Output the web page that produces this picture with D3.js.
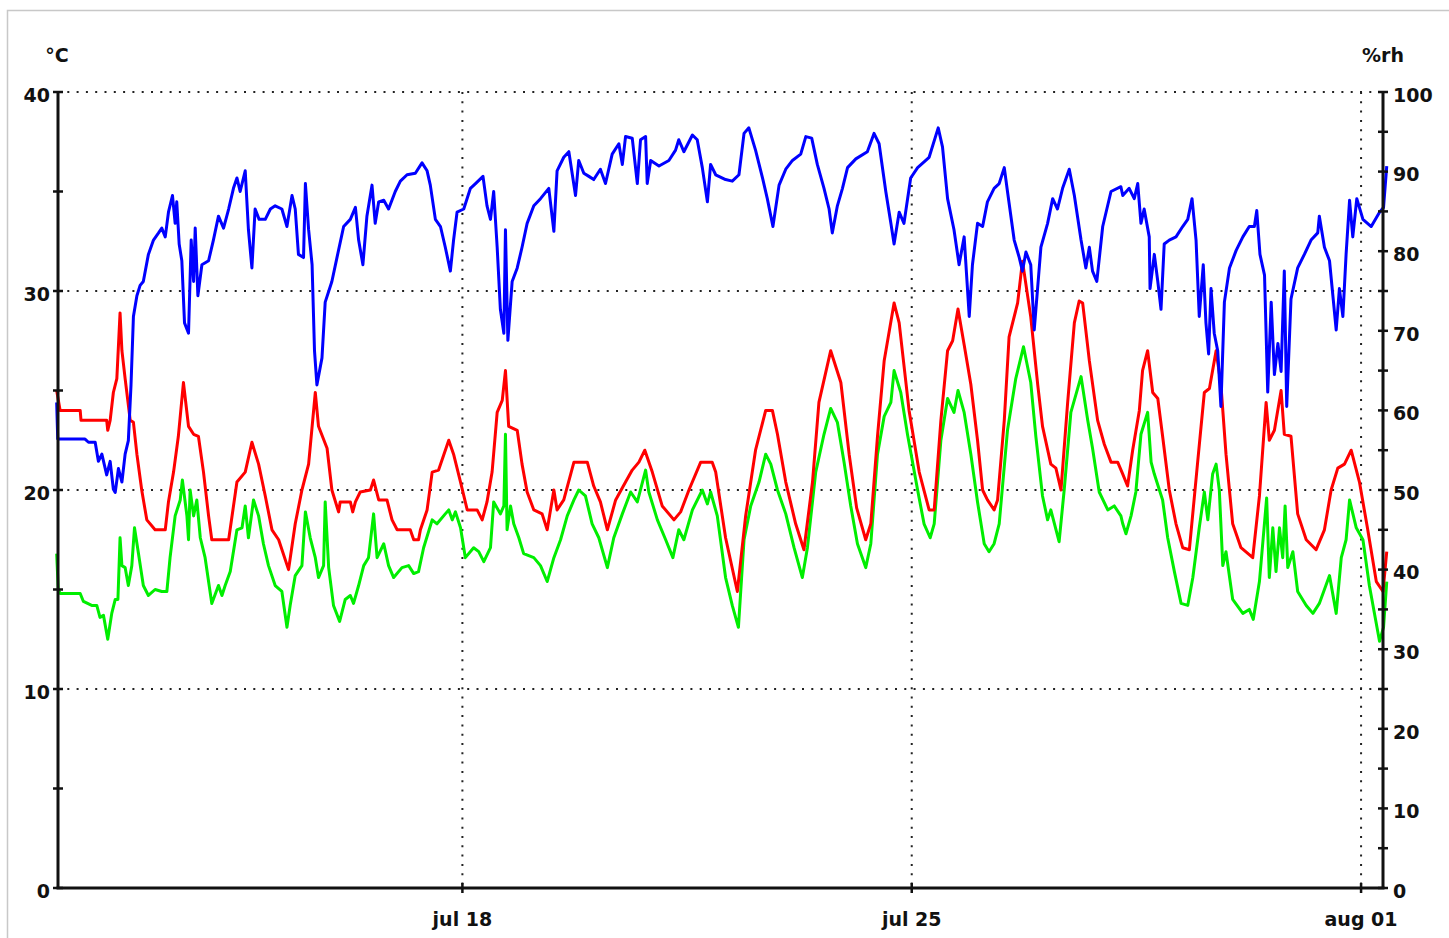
<!DOCTYPE html>
<html>
<head>
<meta charset="utf-8">
<script src="https://cdn.jsdelivr.net/npm/d3@7"></script>
<style>
  body { margin: 0; background: #fff; }
  svg text { font-family: "DejaVu Sans", sans-serif; font-weight: bold; font-size: 19px; fill: #111; }
</style>
</head>
<body>
<div id="chart"></div>
<script>

// hours counted from jul 11 00:00
var startDate = new Date(2013, 6, 11);
var hourRange = [16.8, 512.2];

var tempTicks = [0, 10, 20, 30, 40];
var tempMinorTicks = [5, 15, 25, 35];
var rhTicks = [0, 10, 20, 30, 40, 50, 60, 70, 80, 90, 100];
var rhMinorTicks = [5, 15, 25, 35, 45, 55, 65, 75, 85, 95];
var dateTicks = [new Date(2013, 6, 18), new Date(2013, 6, 25), new Date(2013, 7, 1)];

// [hour, °C]
var redTemp = [[16.3,25.0],[17.6,24.0],[25.1,24.0],[25.4,23.5],[35.0,23.5],[35.4,23.0],[36.3,23.5],[37.5,24.9],[38.8,25.6],[40.0,28.9],[40.7,27.0],[41.9,25.6],[43.8,23.5],[45.0,23.4],[46.3,21.8],[48.1,20.0],[50.0,18.5],[53.1,18.0],[56.9,18.0],[58.1,19.4],[60.0,20.9],[61.8,22.7],[63.7,25.4],[65.6,23.2],[67.5,22.8],[69.3,22.7],[71.2,20.9],[73.1,18.7],[74.3,17.5],[80.6,17.5],[83.7,20.4],[86.8,20.9],[89.3,22.4],[91.8,21.3],[94.3,19.7],[96.8,18.0],[99.3,17.5],[103.0,16.0],[105.5,18.3],[108.0,20.0],[110.5,21.3],[113.0,24.9],[114.2,23.2],[117.4,22.1],[119.2,20.0],[121.7,18.9],[122.3,19.4],[126.1,19.4],[127.0,18.9],[128.0,19.4],[129.8,19.9],[133.6,20.0],[134.8,20.5],[136.7,19.5],[139.8,19.5],[141.7,18.5],[143.6,18.0],[148.5,18.0],[149.8,17.5],[151.6,17.5],[152.3,18.0],[154.8,19.0],[156.7,20.9],[159.1,21.0],[162.9,22.5],[164.7,21.8],[167.3,20.4],[169.8,19.0],[173.5,19.0],[175.4,18.5],[177.2,19.4],[179.1,20.9],[181.0,23.9],[182.9,24.5],[184.1,26.0],[185.3,23.2],[188.5,23.0],[190.3,21.3],[192.2,19.9],[194.7,19.0],[197.8,18.8],[199.7,18.0],[202.2,20.0],[203.4,19.0],[205.9,19.5],[209.7,21.4],[214.7,21.4],[215.9,20.8],[217.1,20.2],[219.6,19.4],[222.2,18.0],[225.3,19.5],[229.0,20.4],[231.5,21.0],[234.0,21.4],[236.2,22.0],[239.0,20.9],[242.7,19.2],[247.1,18.5],[249.6,18.9],[252.7,20.0],[257.1,21.4],[261.4,21.4],[262.7,20.9],[266.4,17.6],[270.8,14.9],[273.9,18.7],[277.6,22.0],[281.4,24.0],[283.9,24.0],[285.8,22.8],[288.9,20.4],[292.6,18.3],[295.7,17.0],[298.9,20.4],[301.3,24.4],[305.7,27.0],[309.5,25.4],[312.6,21.8],[315.4,19.1],[318.8,17.5],[320.7,18.3],[323.2,22.7],[325.7,26.5],[329.4,29.4],[331.3,28.4],[335.0,24.0],[338.8,20.9],[342.5,19.0],[344.4,19.0],[346.9,23.5],[349.4,27.0],[351.3,27.5],[353.3,29.1],[355.6,27.3],[358.1,25.3],[360.6,22.5],[362.5,20.0],[364.3,19.5],[366.8,19.0],[368.1,19.5],[370.6,23.5],[372.4,27.7],[375.6,29.4],[377.4,31.5],[380.5,28.7],[383.1,25.3],[384.9,23.2],[388.0,21.3],[389.9,21.1],[391.8,20.0],[394.3,24.4],[396.8,28.4],[398.6,29.5],[399.9,29.4],[402.4,26.5],[405.5,23.5],[408.0,22.3],[410.5,21.4],[413.0,21.4],[414.9,20.8],[416.7,20.2],[418.6,22.0],[421.1,24.0],[422.3,26.0],[424.2,27.0],[426.1,24.9],[428.0,24.6],[429.8,22.7],[432.3,20.0],[434.8,18.3],[437.3,17.1],[439.8,17.0],[442.9,21.4],[445.4,24.9],[447.3,25.1],[449.8,27.0],[451.6,25.3],[453.5,21.8],[456.0,18.3],[459.1,17.1],[463.5,16.6],[466.0,19.7],[468.5,24.4],[469.7,22.5],[471.6,23.0],[474.1,25.0],[475.3,22.8],[477.8,22.7],[480.3,18.8],[483.5,17.5],[487.2,17.0],[490.3,18.0],[492.8,20.0],[495.3,21.1],[497.8,21.3],[500.3,22.0],[503.4,20.4],[506.5,18.0],[509.7,15.4],[512.2,14.9],[513.6,16.9]];

// [hour, °C]
var greenTemp = [[16.3,16.8],[16.9,15.0],[17.6,14.8],[25.1,14.8],[26.3,14.4],[29.4,14.2],[31.3,14.2],[32.5,13.6],[33.8,13.7],[35.4,12.5],[36.9,13.8],[38.2,14.5],[39.2,14.5],[40.0,17.6],[40.7,16.2],[41.9,16.1],[43.1,15.2],[44.4,16.2],[45.4,18.1],[46.9,16.8],[48.7,15.2],[50.6,14.7],[53.1,15.0],[55.6,14.9],[57.5,14.9],[58.7,16.6],[60.6,18.7],[62.5,19.5],[63.3,20.5],[65.0,18.7],[65.6,17.5],[66.2,20.0],[67.5,18.7],[68.7,19.5],[70.0,17.6],[71.8,16.6],[74.3,14.3],[76.8,15.2],[78.1,14.7],[79.3,15.2],[81.2,15.9],[83.7,18.0],[85.6,18.1],[86.8,19.2],[88.0,17.6],[89.9,19.5],[91.8,18.7],[93.6,17.3],[95.5,16.2],[98.0,15.2],[100.5,14.9],[102.4,13.1],[103.6,14.2],[105.5,15.7],[108.0,16.2],[109.3,18.9],[111.1,17.6],[113.0,16.6],[114.2,15.6],[116.1,16.2],[116.7,19.4],[118.0,16.1],[119.8,14.2],[122.1,13.4],[124.2,14.5],[126.1,14.7],[127.3,14.3],[129.2,15.2],[131.1,16.2],[132.9,16.6],[134.8,18.8],[136.1,16.6],[138.6,17.3],[140.4,16.2],[142.3,15.6],[145.4,16.1],[147.9,16.2],[149.8,15.8],[151.6,15.9],[153.5,17.1],[156.7,18.5],[158.5,18.3],[161.6,18.8],[162.9,19.0],[164.2,18.5],[165.4,18.9],[167.3,18.1],[169.1,16.6],[172.2,17.1],[174.1,16.9],[176.0,16.4],[178.5,17.1],[179.7,19.4],[182.2,18.8],[183.5,19.2],[184.1,22.8],[184.7,18.0],[186.0,19.2],[187.2,18.3],[189.1,17.6],[190.9,16.8],[194.7,16.6],[197.2,16.2],[199.7,15.4],[202.2,16.6],[204.7,17.5],[207.2,18.7],[209.7,19.5],[211.5,20.0],[214.0,19.7],[216.5,18.3],[219.0,17.6],[222.2,16.1],[224.6,17.6],[227.8,18.8],[230.9,19.9],[233.4,19.4],[236.5,21.0],[237.7,19.9],[240.9,18.5],[244.0,17.5],[246.7,16.6],[248.9,18.0],[250.8,17.5],[254.0,19.0],[257.7,20.0],[259.6,19.3],[260.8,19.9],[263.3,18.7],[266.4,15.6],[268.9,14.2],[271.2,13.1],[273.3,17.5],[275.8,19.2],[278.9,20.4],[281.4,21.8],[283.3,21.3],[285.8,20.0],[288.9,18.8],[292.0,17.1],[295.1,15.6],[297.0,17.1],[300.1,20.9],[303.2,22.8],[305.7,24.1],[308.2,23.4],[310.7,21.4],[313.2,19.2],[315.7,17.3],[318.8,16.1],[320.7,17.3],[323.2,21.8],[325.7,23.7],[328.2,24.4],[329.4,26.0],[331.9,24.9],[334.4,22.8],[338.2,20.0],[340.6,18.3],[342.9,17.6],[344.4,18.3],[346.9,22.5],[349.4,24.6],[351.8,23.9],[353.3,25.0],[355.6,23.9],[358.1,21.8],[360.6,19.4],[363.1,17.3],[364.9,16.9],[366.8,17.3],[368.7,18.3],[371.8,23.0],[374.9,25.6],[377.8,27.2],[380.5,25.4],[382.4,22.7],[384.9,19.7],[386.8,18.5],[388.0,19.0],[391.1,17.4],[393.0,20.0],[395.5,23.9],[399.3,25.7],[401.8,23.5],[403.6,22.1],[406.1,19.9],[409.3,19.0],[411.7,19.2],[414.2,18.7],[414.9,18.3],[416.1,17.8],[418.0,18.7],[419.8,19.9],[421.7,22.8],[424.2,23.9],[425.5,21.4],[426.7,20.8],[428.6,20.0],[429.8,19.5],[431.7,17.6],[434.2,15.9],[436.7,14.3],[439.2,14.2],[441.1,15.6],[443.5,18.1],[445.4,19.9],[446.7,18.5],[448.5,20.8],[449.8,21.3],[451.0,20.0],[452.3,16.2],[453.5,16.9],[456.0,14.5],[459.8,13.8],[462.2,14.0],[463.7,13.5],[466.0,15.4],[468.7,19.6],[469.7,15.6],[471.0,18.1],[472.2,15.9],[473.5,18.1],[474.7,16.6],[475.6,19.2],[476.6,16.1],[478.5,16.9],[480.3,14.9],[483.5,14.2],[486.0,13.8],[488.4,14.3],[492.2,15.7],[494.7,13.8],[496.6,16.6],[498.4,17.5],[499.7,19.5],[502.2,18.1],[504.7,17.5],[507.1,15.2],[510.9,12.4],[512.4,13.1],[513.6,15.4]];

// [hour, %rh]
var blueRh = [[16.3,61.0],[16.7,56.4],[26.9,56.4],[28.2,56.0],[30.7,56.0],[31.9,53.6],[33.2,54.5],[35.0,51.9],[36.3,53.6],[37.5,50.1],[38.2,49.7],[39.4,52.7],[40.7,51.0],[41.9,54.5],[43.1,56.2],[44.1,63.2],[45.0,71.8],[46.3,74.4],[47.5,75.7],[48.7,76.2],[50.6,79.6],[52.5,81.4],[54.4,82.3],[55.6,82.9],[56.9,81.8],[58.1,84.9],[59.6,87.0],[60.6,83.5],[61.2,86.2],[62.1,80.9],[63.1,78.8],[64.1,71.0],[65.6,69.7],[66.6,81.4],[67.5,76.2],[68.1,82.9],[69.1,74.4],[70.6,78.3],[73.1,78.8],[74.9,81.4],[76.8,84.4],[78.7,82.9],[80.6,85.3],[82.4,87.9],[83.7,89.2],[84.9,87.5],[86.8,90.1],[88.0,82.7],[89.3,77.9],[90.5,85.3],[92.0,84.0],[94.3,84.0],[96.2,85.3],[98.0,85.7],[100.5,85.3],[102.4,83.1],[104.3,87.0],[105.5,85.3],[106.7,79.6],[108.6,79.2],[109.3,88.5],[110.5,82.7],[111.8,78.3],[112.7,67.5],[113.6,63.2],[115.5,66.6],[116.7,73.6],[119.2,76.2],[121.1,79.2],[123.6,83.1],[126.1,84.0],[128.0,85.5],[129.2,81.4],[130.8,78.3],[132.3,84.4],[134.2,88.3],[135.4,83.5],[136.7,86.2],[138.6,86.4],[140.4,85.3],[142.9,87.5],[144.8,88.8],[147.3,89.6],[150.4,89.8],[152.9,91.1],[154.8,90.1],[156.0,88.3],[157.9,84.0],[159.8,83.1],[161.6,80.5],[163.5,77.5],[164.7,81.4],[166.0,84.9],[168.5,85.3],[171.0,87.9],[172.9,88.5],[175.7,89.4],[177.2,85.7],[178.5,84.0],[179.7,87.5],[181.0,80.5],[182.2,72.7],[183.5,69.7],[184.1,82.7],[185.0,68.8],[186.6,76.2],[188.5,77.9],[190.3,80.5],[192.2,83.5],[194.7,85.7],[197.2,86.6],[200.3,87.9],[202.2,82.5],[203.4,90.1],[205.9,91.8],[207.8,92.5],[210.3,87.0],[211.5,91.4],[213.4,89.8],[215.3,89.4],[217.1,89.0],[219.6,90.3],[221.5,88.5],[224.0,92.2],[226.5,93.5],[227.8,90.9],[229.0,94.4],[231.5,94.2],[233.4,88.5],[234.6,94.0],[236.5,94.4],[237.1,88.5],[238.4,91.4],[241.5,90.7],[245.2,91.4],[247.7,92.7],[248.9,94.0],[250.8,92.5],[254.0,94.6],[255.8,94.0],[257.7,90.5],[259.6,86.2],[260.8,90.9],[262.7,89.6],[266.4,89.0],[268.9,88.8],[271.4,89.6],[273.3,94.8],[275.1,95.5],[277.6,92.7],[280.2,89.2],[282.0,86.6],[284.1,83.1],[286.4,88.3],[288.9,90.3],[291.4,91.4],[294.5,92.2],[296.4,94.4],[298.6,94.2],[300.7,90.9],[303.2,87.9],[305.1,85.3],[306.3,82.3],[308.2,85.7],[310.1,87.9],[312.0,90.5],[315.1,91.6],[319.4,92.5],[321.9,94.8],[323.8,93.5],[326.3,87.5],[328.2,83.5],[329.4,80.9],[331.3,84.9],[333.1,83.5],[335.6,89.2],[338.2,90.5],[342.5,91.8],[345.9,95.5],[347.5,93.1],[349.4,86.6],[351.8,82.7],[353.7,78.3],[355.6,81.8],[357.5,71.8],[358.7,78.3],[360.6,83.5],[362.5,83.1],[364.3,86.2],[366.8,87.9],[368.7,88.5],[370.6,90.5],[371.8,87.5],[374.3,81.4],[376.2,79.2],[377.4,77.5],[378.7,79.9],[380.5,78.3],[381.8,70.1],[384.3,80.5],[386.8,83.5],[388.7,86.6],[390.5,85.3],[392.4,87.9],[394.9,90.3],[396.8,87.0],[399.3,81.4],[401.1,77.9],[402.4,80.5],[403.6,77.5],[405.2,76.2],[407.4,83.1],[410.5,87.5],[414.2,88.1],[414.9,87.0],[417.3,87.9],[419.2,86.6],[420.5,88.5],[421.7,83.5],[422.9,85.3],[424.8,81.8],[425.1,75.3],[426.7,79.6],[428.0,76.2],[429.2,72.7],[430.4,80.9],[432.3,81.4],[434.8,81.8],[437.3,83.1],[439.2,84.0],[440.8,86.6],[442.3,81.4],[443.5,71.8],[445.0,78.3],[446.0,71.0],[447.0,67.1],[447.9,75.3],[449.1,69.7],[450.4,67.5],[451.6,60.5],[452.9,73.6],[454.8,77.9],[457.3,80.1],[459.8,81.8],[462.2,83.1],[464.1,83.1],[465.0,85.1],[466.2,79.6],[467.9,77.0],[469.1,62.3],[470.4,73.6],[471.6,64.5],[472.9,68.4],[474.1,64.9],[475.3,77.5],[476.2,60.5],[477.8,74.0],[480.3,77.9],[482.8,79.6],[485.3,81.4],[487.8,82.3],[488.4,84.4],[490.3,80.5],[492.2,78.8],[494.7,70.1],[495.9,75.3],[497.2,71.8],[498.4,79.6],[499.7,86.4],[500.9,81.8],[502.4,86.6],[504.7,84.0],[507.8,83.1],[510.9,84.9],[512.4,85.5],[513.6,90.7]];


function hourToDate(h) {
    return new Date(startDate.getTime() + h * 3600 * 1000);
}

var fullWidth = 1449,
    fullHeight = 938,
    margin = {top: 92, right: 66, bottom: 50, left: 58},
    width = fullWidth - margin.left - margin.right,
    height = fullHeight - margin.top - margin.bottom;

var x = d3.scaleTime()
        .domain(hourRange.map(hourToDate))
        .range([0, width]);

var yTemp = d3.scaleLinear()
        .domain([0, 40])
        .range([height, 0]);

var yRh = d3.scaleLinear()
        .domain([0, 100])
        .range([height, 0]);

var formatDay = d3.timeFormat("%b %d");

var root = d3.select("#chart").append("svg")
        .attr("width", fullWidth)
        .attr("height", fullHeight);

// light frame round the picture
root.append("rect")
        .attr("x", 7.5)
        .attr("y", 10.5)
        .attr("width", fullWidth + 20)
        .attr("height", fullHeight + 20)
        .attr("fill", "#fff")
        .attr("stroke", "#c8c8c8")
        .attr("stroke-width", 1.5);

var svg = root.append("g")
        .attr("transform", "translate(" + margin.left + "," + margin.top + ")");

// dotted grid
svg.selectAll("line.hgrid")
        .data(tempTicks.slice(1))
        .enter().append("line")
        .attr("class", "hgrid")
        .attr("x1", 0)
        .attr("x2", width)
        .attr("y1", function(d) { return yTemp(d); })
        .attr("y2", function(d) { return yTemp(d); });

svg.selectAll("line.vgrid")
        .data(dateTicks)
        .enter().append("line")
        .attr("class", "vgrid")
        .attr("x1", function(d) { return x(d); })
        .attr("x2", function(d) { return x(d); })
        .attr("y1", 0)
        .attr("y2", height);

svg.selectAll("line.hgrid, line.vgrid")
        .attr("stroke", "#222")
        .attr("stroke-width", 2)
        .attr("stroke-dasharray", "2,7.3");

// series
function drawSeries(data, yScale, color) {
    var line = d3.line()
            .x(function(d) { return x(hourToDate(d[0])); })
            .y(function(d) { return yScale(d[1]); });

    svg.append("path")
            .datum(data)
            .attr("fill", "none")
            .attr("stroke", color)
            .attr("stroke-width", 3)
            .attr("stroke-linejoin", "round")
            .attr("d", line);
}

drawSeries(greenTemp, yTemp, "#00ee00");
drawSeries(redTemp, yTemp, "#ff0000");
drawSeries(blueRh, yRh, "#0000ff");

// axes lines
var axisColor = "#111";

svg.append("line")
        .attr("x1", 0).attr("x2", 0)
        .attr("y1", 0).attr("y2", height)
        .attr("stroke", axisColor).attr("stroke-width", 3);

svg.append("line")
        .attr("x1", width).attr("x2", width)
        .attr("y1", 0).attr("y2", height)
        .attr("stroke", axisColor).attr("stroke-width", 3);

svg.append("line")
        .attr("x1", -1.5).attr("x2", width + 1.5)
        .attr("y1", height).attr("y2", height)
        .attr("stroke", axisColor).attr("stroke-width", 3);

// ticks cross the axis on both sides
svg.selectAll("line.ltick")
        .data(tempTicks.concat(tempMinorTicks))
        .enter().append("line")
        .attr("class", "ltick")
        .attr("x1", -5).attr("x2", 5)
        .attr("y1", function(d) { return yTemp(d); })
        .attr("y2", function(d) { return yTemp(d); });

svg.selectAll("line.rtick")
        .data(rhTicks.concat(rhMinorTicks))
        .enter().append("line")
        .attr("class", "rtick")
        .attr("x1", width - 5).attr("x2", width + 5)
        .attr("y1", function(d) { return yRh(d); })
        .attr("y2", function(d) { return yRh(d); });

svg.selectAll("line.btick")
        .data(dateTicks)
        .enter().append("line")
        .attr("class", "btick")
        .attr("x1", function(d) { return x(d); })
        .attr("x2", function(d) { return x(d); })
        .attr("y1", height - 5).attr("y2", height + 5);

svg.selectAll("line.ltick, line.rtick, line.btick")
        .attr("stroke", axisColor)
        .attr("stroke-width", 2.5);

// labels
svg.selectAll("text.ltext")
        .data(tempTicks)
        .enter().append("text")
        .attr("class", "ltext")
        .attr("x", -8)
        .attr("y", function(d) { return yTemp(d) + 3; })
        .attr("dy", "0.36em")
        .attr("text-anchor", "end")
        .text(function(d) { return d; });

svg.selectAll("text.rtext")
        .data(rhTicks)
        .enter().append("text")
        .attr("class", "rtext")
        .attr("x", width + 10)
        .attr("y", function(d) { return yRh(d) + 3; })
        .attr("dy", "0.36em")
        .attr("text-anchor", "start")
        .text(function(d) { return d; });

svg.selectAll("text.btext")
        .data(dateTicks)
        .enter().append("text")
        .attr("class", "btext")
        .attr("x", function(d) { return x(d); })
        .attr("y", height + 38)
        .attr("text-anchor", "middle")
        .text(function(d) { return formatDay(d).toLowerCase(); });

svg.append("text")
        .attr("x", -1)
        .attr("y", -30)
        .attr("text-anchor", "middle")
        .text("°C");

svg.append("text")
        .attr("x", width)
        .attr("y", -30)
        .attr("text-anchor", "middle")
        .text("%rh");

</script>
</body>
</html>
